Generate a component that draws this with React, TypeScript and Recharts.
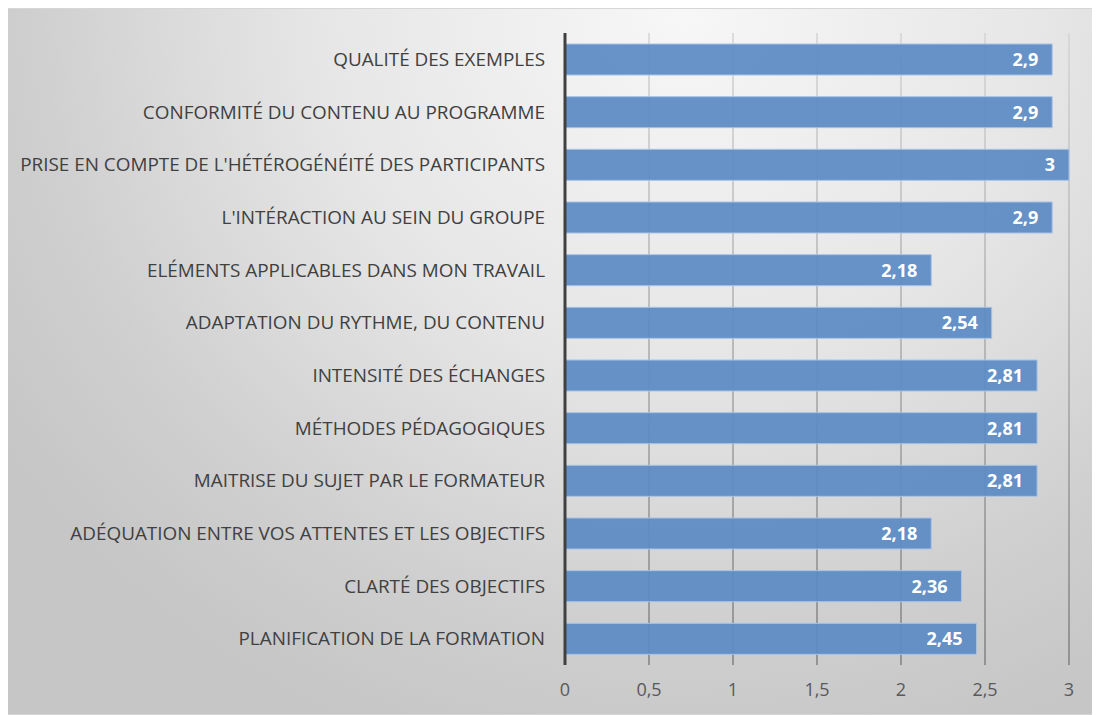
import React from "react";
import { BarChart, Bar, XAxis, YAxis, CartesianGrid, LabelList } from "recharts";

const categories = [
  "QUALITÉ DES EXEMPLES",
  "CONFORMITÉ DU CONTENU AU PROGRAMME",
  "PRISE EN COMPTE DE L'HÉTÉROGÉNÉITÉ DES PARTICIPANTS",
  "L'INTÉRACTION AU SEIN DU GROUPE",
  "ELÉMENTS APPLICABLES DANS MON TRAVAIL",
  "ADAPTATION DU RYTHME, DU CONTENU",
  "INTENSITÉ DES ÉCHANGES",
  "MÉTHODES PÉDAGOGIQUES",
  "MAITRISE DU SUJET PAR LE FORMATEUR",
  "ADÉQUATION ENTRE VOS ATTENTES ET LES OBJECTIFS",
  "CLARTÉ DES OBJECTIFS",
  "PLANIFICATION DE LA FORMATION",
];
const scores = [2.9, 2.9, 3, 2.9, 2.18, 2.54, 2.81, 2.81, 2.81, 2.18, 2.36, 2.45];
const xTicks = [0, 0.5, 1, 1.5, 2, 2.5, 3];

const data = categories.map((name, i) => ({ name, value: scores[i] }));
const fmt = (v: number) => String(v).replace(".", ",");

const FONT = "'Open Sans', 'Noto Sans', sans-serif";

export default function App() {
  return (
    <div
      style={{
        width: 1090,
        height: 705,
        border: "1px solid #d6d6d6",
        background:
          "radial-gradient(ellipse 75% 110% at 62% 0%, #f7f7f7 0%, #e6e6e6 45%, #cfcfcf 80%, #c6c6c6 100%)",
        fontFamily: FONT,
        marginLeft: -1,
      }}
    >
      <BarChart
        width={1090}
        height={705}
        data={data}
        layout="vertical"
        margin={{ top: 24, right: 29, bottom: 0, left: 0 }}
      >
        <defs>
          <linearGradient id="gridGrad" gradientUnits="userSpaceOnUse" x1="0" y1="24" x2="0" y2="656">
            <stop offset="0%" stopColor="#d4d4d4" />
            <stop offset="100%" stopColor="#808080" />
          </linearGradient>
        </defs>
        <CartesianGrid horizontal={false} stroke="url(#gridGrad)" strokeWidth={1.5} />
        <XAxis
          type="number"
          domain={[0, 3]}
          ticks={xTicks}
          tickFormatter={fmt}
          axisLine={false}
          tickLine={false}
          tickMargin={12}
          height={49}
          tick={{ fill: "#595959", fontSize: 18, fontFamily: FONT }}
        />
        <YAxis
          type="category"
          dataKey="name"
          width={557}
          axisLine={{ stroke: "#404040", strokeWidth: 3 }}
          tickLine={false}
          tickMargin={14}
          interval={0}
          tick={{ fill: "#404040", fontSize: 18.9, fontFamily: FONT }}
        />
        <Bar
          dataKey="value"
          barSize={31}
          fill="#5b8bc5"
          fillOpacity={0.93}
          stroke="#a8c3e6"
          strokeWidth={1}
          isAnimationActive={false}
        >
          <LabelList
            dataKey="value"
            position="insideRight"
            offset={14}
            formatter={(v: any) => fmt(v)}
            style={{ fill: "#ffffff", fontSize: 18, fontWeight: 700, fontFamily: FONT }}
          />
        </Bar>
      </BarChart>
    </div>
  );
}
